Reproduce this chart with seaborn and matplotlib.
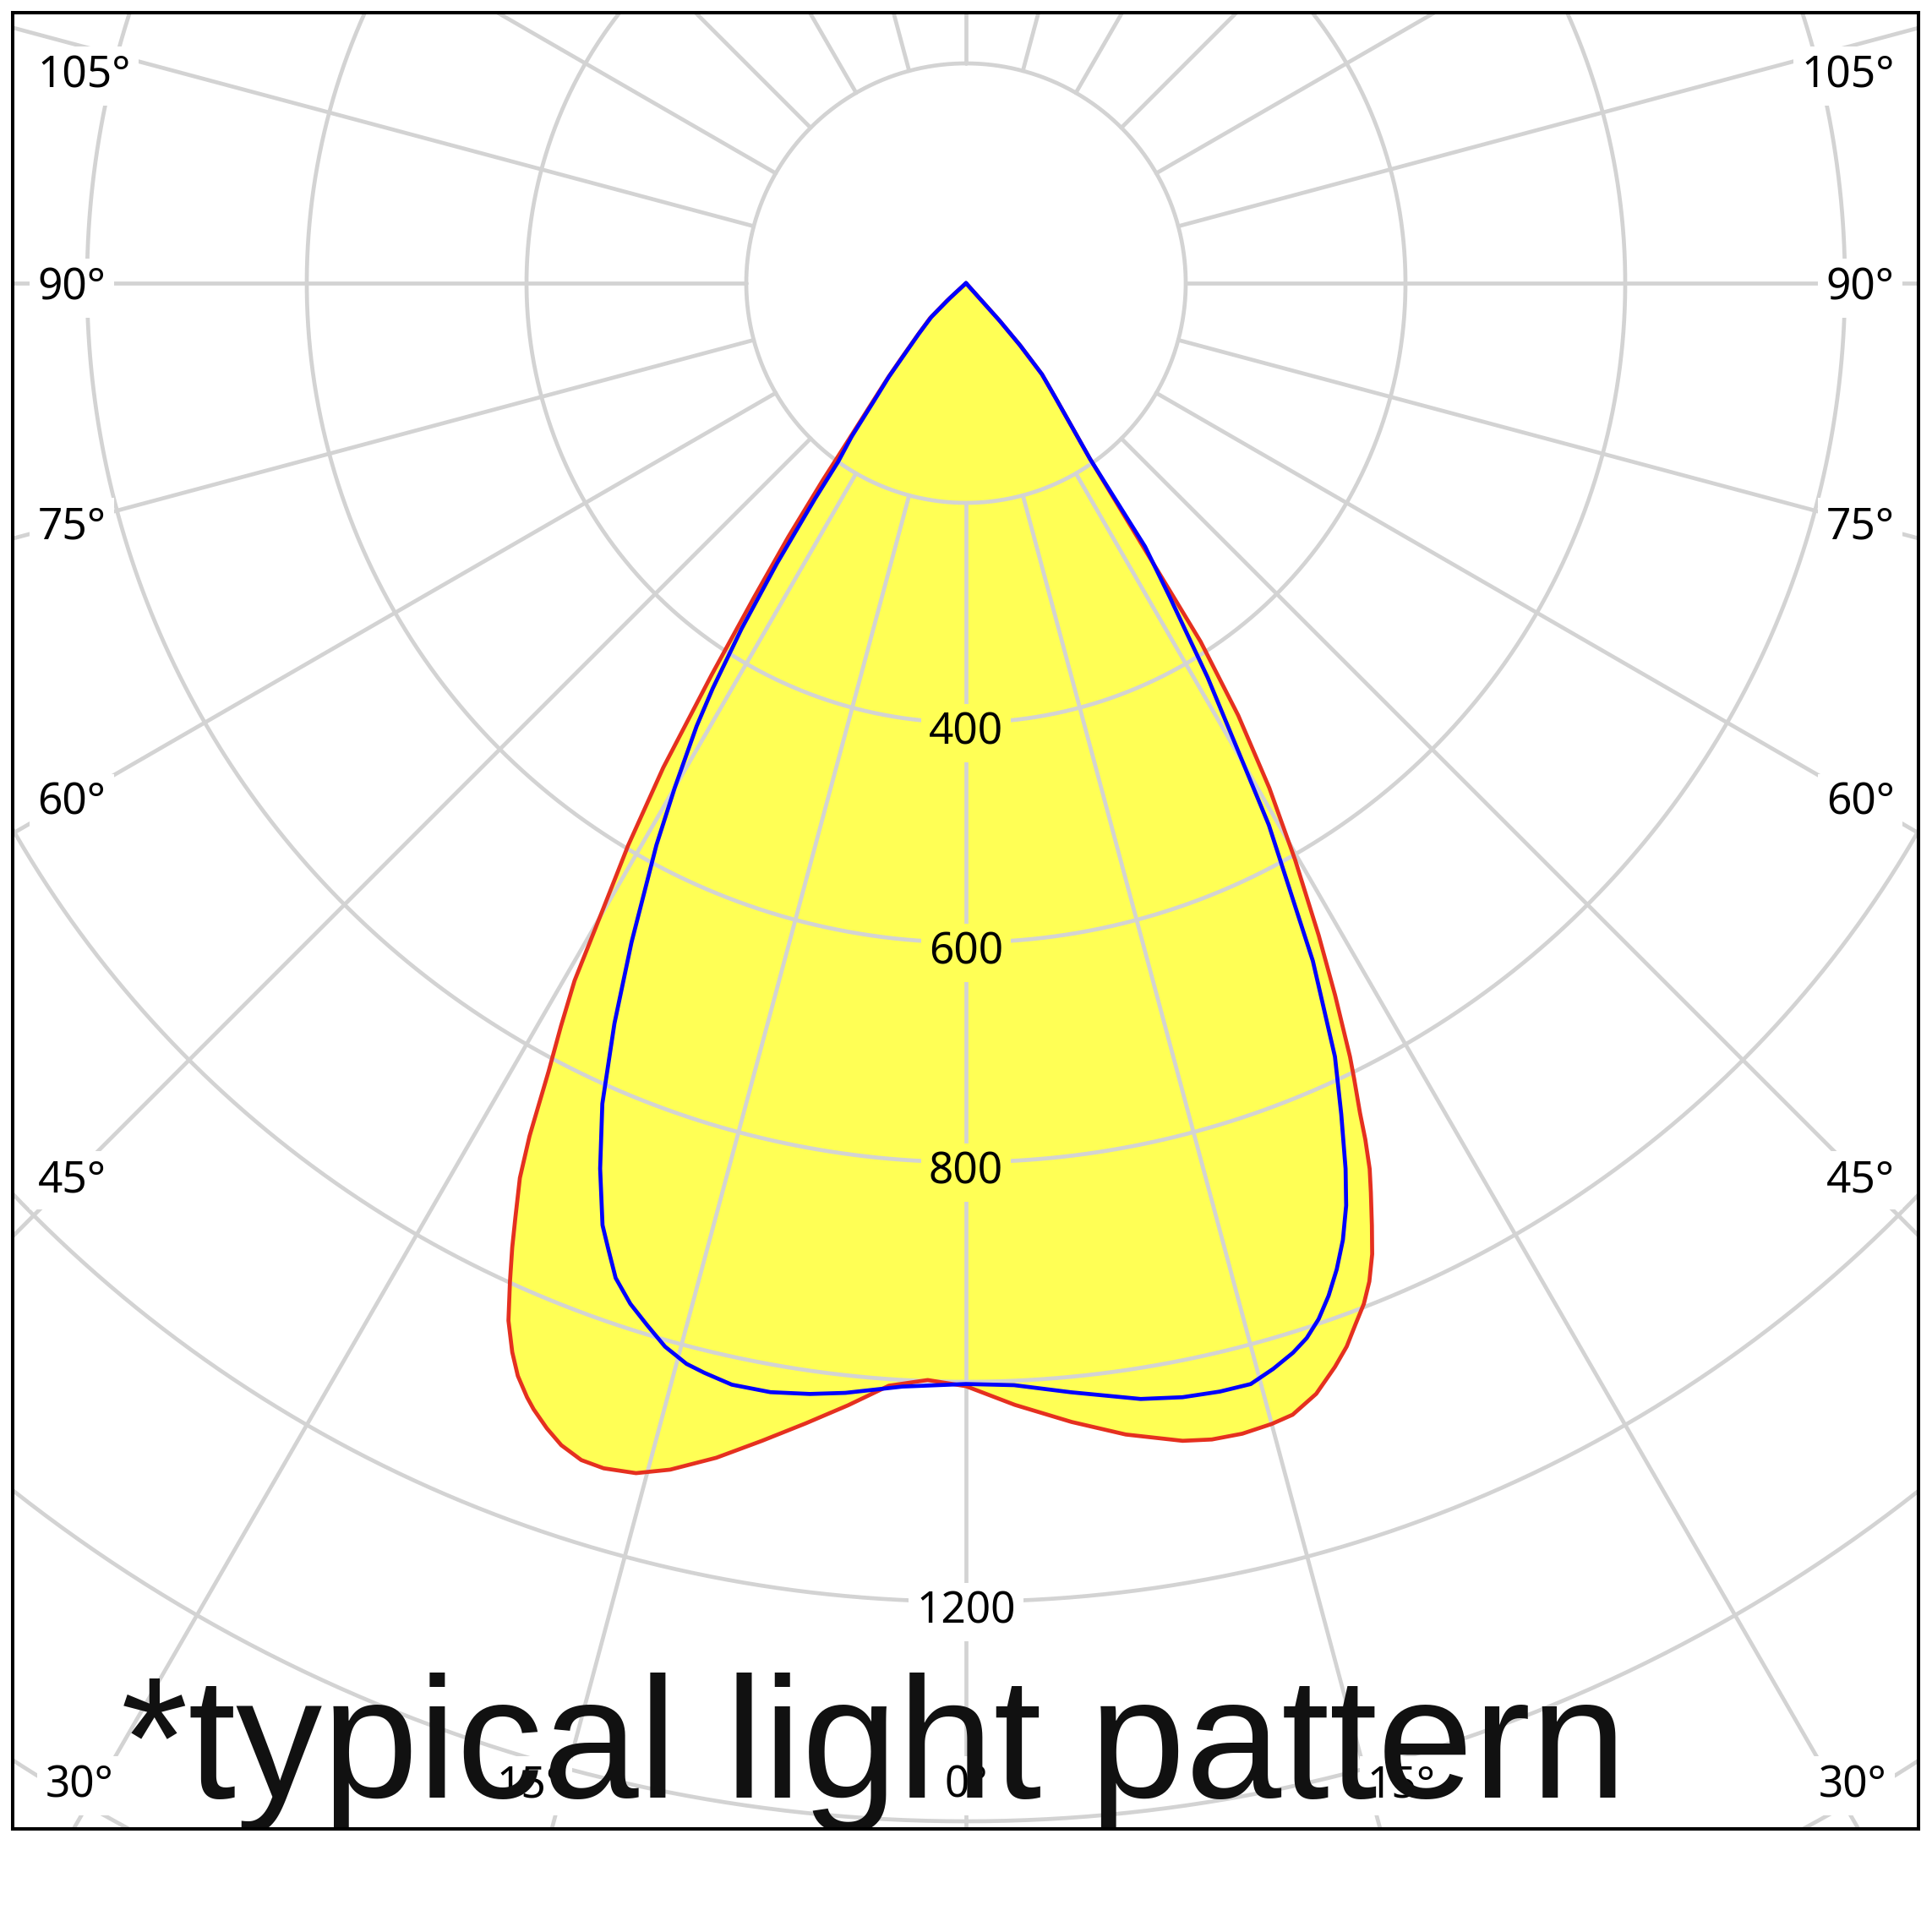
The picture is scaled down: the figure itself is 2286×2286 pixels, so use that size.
import numpy as np
import pandas as pd
import matplotlib
matplotlib.use("Agg")
import matplotlib.pyplot as plt
from matplotlib.path import Path
import seaborn as sns

# ---------------- data: luminous intensity (cd) vs gamma (deg from nadir) ----------------
# C0 plane (right half, red)
c0_gamma = [0, 2.5, 5.3, 7.9, 10.6, 12, 13.5, 15, 16.1, 17.5, 18.8, 19.7, 20.5, 21.3, 22,
            22.7, 23.3, 24, 24.5, 25, 25.4, 26, 26.4, 27.4, 28.4, 29.7, 31, 32.2, 33.2, 33.9,
            35.2, 36.5, 38, 39.8, 41, 41.8, 43]
c0_cd = [1004, 1022, 1041, 1058, 1072, 1076, 1077, 1075, 1072, 1060, 1042, 1028, 1012, 997, 980,
         958, 934, 906, 886, 860, 836, 806, 786, 730, 675, 605, 536, 465, 390, 290,
         196, 160, 132, 108, 75, 46, 0]
# C180 plane (left half, red)
c180_gamma = [0, 2, 4, 6, 8, 10, 12, 14, 15.5, 17, 18.1, 19.2, 20.1, 21, 21.5, 22.3, 23, 23.8,
              24.55, 25.2, 25.75, 26.5, 27.1, 27.9, 28.6, 29.3, 30.1, 31, 32, 33, 34, 35, 36,
              36.7, 38, 39.5, 40.8, 43, 45.7, 47.2, 48.5]
c180_cd = [1004, 999, 1006, 1027, 1048, 1070, 1093, 1113, 1124, 1128, 1127, 1120, 1110, 1098, 1090,
           1075, 1057, 1032, 999, 970, 944, 910, 872, 812, 770, 728, 659, 597, 520, 425, 345, 282,
           222, 184, 142, 112, 89, 64, 46, 24, 0]
# C90 plane (right half, blue)
c90_gamma = [0, 2.5, 5.4, 8.9, 11, 12.9, 14.5, 15.8, 17, 17.9, 18.8, 19.7, 20.6, 21.5, 22.4, 23.2,
             24.3, 25.5, 27.1, 29.2, 31.5, 33, 34.2, 35.2, 36.5, 38, 39.8, 41, 41.8, 43]
c90_cd = [1002, 1004, 1014, 1028, 1033, 1035, 1035, 1027, 1018, 1009, 996, 979, 959, 936, 908, 877,
          830, 780, 693, 565, 421, 340, 290, 196, 160, 132, 108, 75, 46, 0]
# C270 plane (left half, blue)
c270_gamma = [0, 3.3, 6.2, 8, 10, 12, 13.5, 14.5, 15.8, 17, 18.2, 19.4, 20.3, 21.1, 22.45, 23.9,
              25.4, 26.9, 28.85, 30, 31.3, 32, 33, 34, 35, 35.6, 36.7, 38, 39.5, 40.8, 43, 45.7,
              47.2, 48.5]
c270_cd = [1002, 1006, 1016, 1021, 1025, 1025, 1020, 1016, 1006, 992, 978, 960, 938, 919, 872, 817,
           746, 673, 584, 530, 472, 435, 375, 308, 240, 200, 174, 136, 110, 86, 63, 44,
           20, 0]

grid_rings = [200, 400, 600, 800, 1000, 1200, 1400, 1600, 1800, 2000]
ring_labels = [400, 600, 800, 1200]
spoke_angles = list(range(0, 360, 15))
angle_labels = [0, 15, 30, 45, 60, 75, 90, 105]
title_text = "*typical light pattern"

# ---------------- style ----------------
YELLOW = "#ffff55"
RED = "#e5301f"
BLUE = "#0000ff"
GRID = "#d3d3d3"

sns.set_style("white")
plt.rcParams["font.family"] = ["Noto Sans", "DejaVu Sans"]

W = 2286
fig = plt.figure(figsize=(W / 100, W / 100), dpi=100)
fig.patch.set_facecolor("white")
ax = fig.add_axes([15 / W, 1 - 2164 / W, 2255 / W, 2149 / W])

SCALE = 1.3          # px per cd
CX, CY = 1143, 335   # centre of the diagram in px
XLIM = ((15 - CX) / SCALE, (2270 - CX) / SCALE)
YLIM = (-(2164 - CY) / SCALE, (CY - 15) / SCALE)


def half_to_xy(gamma, cd, side):
    g = np.radians(np.asarray(gamma, float))
    c = np.asarray(cd, float)
    return side * c * np.sin(g), -c * np.cos(g)


def curve(gl, cl, gr, cr):
    xl, yl = half_to_xy(gl, cl, -1)
    xr, yr = half_to_xy(gr, cr, 1)
    return np.concatenate([xl[::-1], xr]), np.concatenate([yl[::-1], yr])


xr_, yr_ = curve(c180_gamma, c180_cd, c0_gamma, c0_cd)
xb_, yb_ = curve(c270_gamma, c270_cd, c90_gamma, c90_cd)

# fill of C0-C180 curve
ax.fill(xr_, yr_, color=YELLOW, lw=0, zorder=1)

# grid
t = np.linspace(0, 2 * np.pi, 1441)
for r in grid_rings:
    ax.plot(r * np.sin(t), r * np.cos(t), color=GRID, lw=3.4, zorder=2)
for a in spoke_angles:
    th = np.radians(a)
    ax.plot([200 * np.sin(th), 3000 * np.sin(th)], [-200 * np.cos(th), -3000 * np.cos(th)],
            color=GRID, lw=3.4, zorder=2)

# ring labels
red_path = Path(np.column_stack([xr_, yr_]))
for r in ring_labels:
    inside = red_path.contains_point((0, -r))
    ax.text(0, -r - 5, str(r), ha="center", va="center_baseline", fontsize=37, color="black",
            zorder=3, bbox=dict(boxstyle="square,pad=0.18", fc=YELLOW if inside else "white", ec="none"))

# curves
df_red = pd.DataFrame({"x": xr_, "y": yr_})
df_blue = pd.DataFrame({"x": xb_, "y": yb_})
sns.lineplot(data=df_red, x="x", y="y", sort=False, estimator=None, color=RED, lw=3.4,
             ax=ax, zorder=4)
sns.lineplot(data=df_blue, x="x", y="y", sort=False, estimator=None, color=BLUE, lw=3.4,
             ax=ax, zorder=5)

ax.set_xlim(*XLIM)
ax.set_ylim(*YLIM)
ax.set_xticks([])
ax.set_yticks([])
ax.set_xlabel("")
ax.set_ylabel("")
for sp in ax.spines.values():
    sp.set_visible(True)
    sp.set_color("black")
    sp.set_linewidth(2.9)
    sp.set_zorder(10)

# angle labels
X_LINE, X_LAB, Y_BOT, Y_TOP, X_BOT_MAX = 812, 845, -1363, 193, 776
for a in angle_labels:
    th = np.radians(a)
    s, c = np.sin(th), np.cos(th)
    sides = [1] if a == 0 else [-1, 1]
    for side in sides:
        if a == 0 or -X_LINE * c / s < Y_BOT:
            x = side * min((-Y_BOT) * s / c, X_BOT_MAX)
            y = Y_BOT
            ha = "center" if a == 0 else ("right" if side < 0 else "left")
        else:
            x = side * X_LAB
            y = min(max(-X_LINE * c / s, Y_BOT), Y_TOP)
            ha = "left" if side < 0 else "right"
        ax.text(x, y, f"{a}°", ha=ha, va="center_baseline", fontsize=37, color="black",
                zorder=6, bbox=dict(boxstyle="square,pad=0.18", fc="white", ec="none"))

# title
ax.text(1033.5 / W, (W - 2127) / W, title_text, transform=fig.transFigure, ha="center",
        va="baseline", fontsize=147, family=["Liberation Sans", "DejaVu Sans"], color="#111111",
        zorder=7, clip_on=True)

fig.savefig("out.png", dpi=100, facecolor="white")
